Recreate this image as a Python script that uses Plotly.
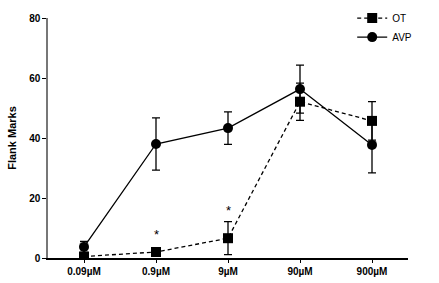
import plotly.graph_objects as go

categories = ["0.09µM", "0.9µM", "9µM", "90µM", "900µM"]
ot_values = [0.5, 2.0, 6.6, 52.1, 45.7]
ot_err = [0.5, 0.3, 5.5, 6.2, 6.4]
avp_values = [3.7, 38.0, 43.3, 56.3, 37.7]
avp_err = [1.8, 8.7, 5.4, 8.0, 9.3]
star_cats = ["0.9µM", "9µM"]
star_y = [7.7, 16.0]

x_idx = list(range(len(categories)))
star_idx = [categories.index(c) for c in star_cats]

fig = go.Figure()
fig.add_trace(go.Scatter(
    x=x_idx, y=ot_values, name="OT", mode="lines+markers",
    line=dict(color="black", width=1.3, dash="4px,3px"),
    marker=dict(symbol="square", size=10, color="black"),
    error_y=dict(type="data", array=ot_err, color="black", thickness=1.3, width=4),
))
fig.add_trace(go.Scatter(
    x=x_idx, y=avp_values, name="AVP", mode="lines+markers",
    line=dict(color="black", width=1.3),
    marker=dict(symbol="circle", size=10, color="black"),
    error_y=dict(type="data", array=avp_err, color="black", thickness=1.3, width=4),
))
for i, y in zip(star_idx, star_y):
    fig.add_annotation(x=i, y=y, text="*", showarrow=False,
                       font=dict(family="Arial, Liberation Sans", size=13, color="black"))

fig.update_layout(
    width=439, height=283,
    margin=dict(l=48, r=31, t=18, b=25, autoexpand=False),
    paper_bgcolor="white", plot_bgcolor="white",
    font=dict(family="Arial, Liberation Sans", size=10, color="black"),
    showlegend=True,
    legend=dict(x=0.845, y=1.06, xanchor="left", yanchor="top",
                font=dict(size=10), bgcolor="rgba(0,0,0,0)",
                tracegroupgap=0),
    xaxis=dict(
        range=[-0.5, 4.5], tickmode="array", tickvals=x_idx, ticktext=categories,
        showgrid=False, zeroline=False, showline=True, linecolor="black", linewidth=1.5,
        ticks="outside", ticklen=3, tickcolor="black",
        tickfont=dict(size=10, weight="bold"),
    ),
    yaxis=dict(
        range=[0, 80], tickvals=[0, 20, 40, 60, 80],
        showgrid=False, zeroline=False, showline=True, linecolor="#777777", linewidth=1.5,
        ticks="outside", ticklen=4, tickcolor="black",
        tickfont=dict(size=10, weight="bold"),
        title=dict(text="Flank Marks", font=dict(size=11, weight="bold"), standoff=10),
    ),
)

fig.write_html("out.html")
